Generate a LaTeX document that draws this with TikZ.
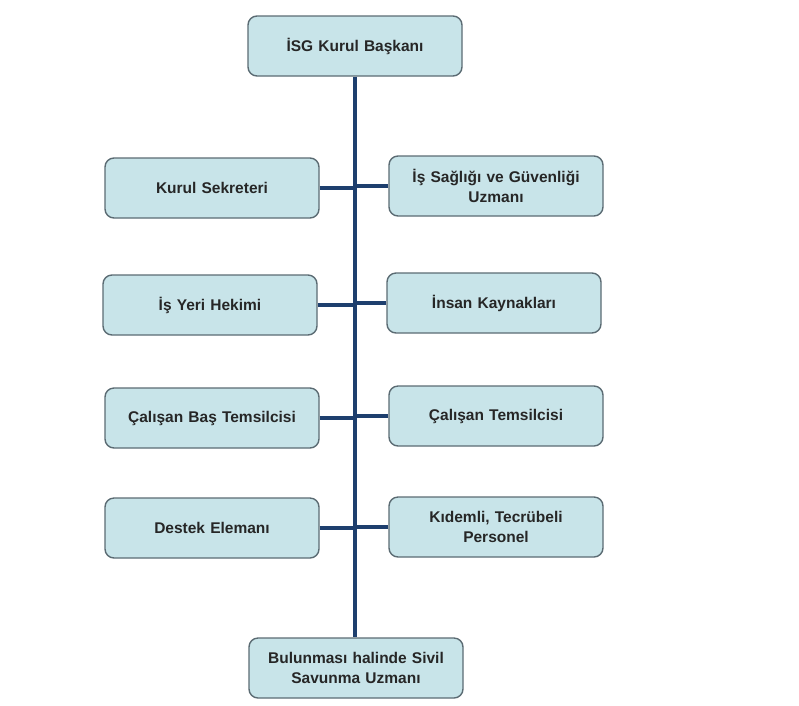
\documentclass[tikz,border=0pt]{standalone}
\usepackage{fontspec}
\setmainfont{Liberation Sans}
\usepackage{tikz}

\definecolor{boxfill}{HTML}{C8E4E9}
\definecolor{boxline}{HTML}{5B6B73}
\definecolor{trunkline}{HTML}{1E3F6E}

\begin{document}
\begin{tikzpicture}[x = 1pt, y = -1pt,
    unit/.style = {draw = boxline, line width = 1.4pt, fill = boxfill, rounded corners = 9pt,
        minimum width = 214pt, minimum height = 60pt, align = center, text width = 205pt,
        font = \fontsize{15.5}{19.5}\selectfont\bfseries, text = black!85},
    link/.style = {draw = trunkline, line width = 3.2pt}]
            \useasboundingbox (0,0) rectangle (799,705);
            %\draw (0,0) -- (799,0);
            \node[unit] (bas) at (355,46) {İSG Kurul Başkanı};
            \node[unit] (sekr) at (212,188) {Kurul Sekreteri};
            \node[unit] (uzm) at (496,186) {İş Sağlığı ve Güvenliği\\Uzmanı};
            \node[unit] (hek) at (210,305) {İş Yeri Hekimi};
            \node[unit] (ik) at (494,303) {İnsan Kaynakları};
            \node[unit] (bastem) at (212,418) {Çalışan Baş Temsilcisi};
            \node[unit] (tem) at (496,416) {Çalışan Temsilcisi};
            \node[unit] (des) at (212,528) {Destek Elemanı};
            \node[unit] (kid) at (496,527) {Kıdemli, Tecrübeli\\Personel};
            \node[unit] (siv) at (356,668) {Bulunması halinde Sivil\\Savunma Uzmanı};
            
            % ana hat
            \draw[link] (bas.south) -- (bas.south |- siv.north);
            
            \draw[link] (sekr.east) -- (sekr.east -| bas.south);
            \draw[link] (uzm.west) -- (uzm.west -| bas.south);
            \draw[link] (hek.east) -- (hek.east -| bas.south);
            \draw[link] (ik.west) -- (ik.west -| bas.south);
            \draw[link] (bastem.east) -- (bastem.east -| bas.south);
            \draw[link] (tem.west) -- (tem.west -| bas.south);
            \draw[link] (des.east) -- (des.east -| bas.south);
            \draw[link] (kid.west) -- (kid.west -| bas.south);
            
            \end{tikzpicture}
\end{document}
